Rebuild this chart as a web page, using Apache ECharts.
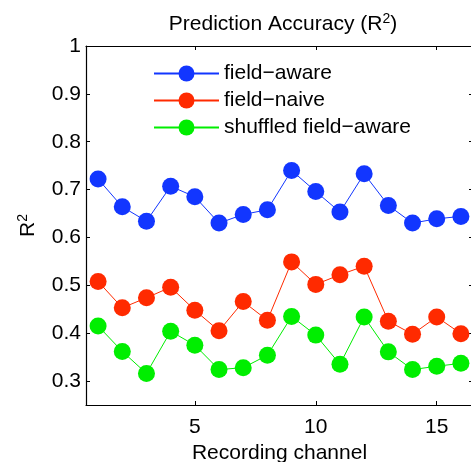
<!DOCTYPE html>
<html>
<head>
<meta charset="utf-8">
<script src="https://cdn.jsdelivr.net/npm/echarts@6/dist/echarts.min.js"></script>
<style>
  html, body { margin: 0; padding: 0; background: #fff; }
  #chart { width: 471px; height: 462px; }
</style>
</head>
<body>
<div id="chart"></div>
<script>
// 数据
const channels = [1, 2, 3, 4, 5, 6, 7, 8, 9, 10, 11, 12, 13, 14, 15, 16];
const fieldAware = [0.722, 0.664, 0.634, 0.707, 0.685, 0.630, 0.648, 0.658, 0.740, 0.696, 0.653, 0.733, 0.667, 0.630, 0.639, 0.644];
const fieldNaive = [0.508, 0.453, 0.474, 0.496, 0.448, 0.405, 0.466, 0.427, 0.549, 0.502, 0.522, 0.540, 0.425, 0.398, 0.434, 0.399];
const shuffled = [0.415, 0.362, 0.316, 0.404, 0.375, 0.324, 0.328, 0.354, 0.435, 0.396, 0.335, 0.434, 0.361, 0.324, 0.331, 0.337];
const xTicks = [5, 10, 15];
const yTicks = [0.3, 0.4, 0.5, 0.6, 0.7, 0.8, 0.9, 1];

const font = 'Liberation Sans';

function pairs(arr) {
  return arr.map((v, i) => [channels[i], v]);
}

function lineSeries(name, color, values) {
  return {
    name: name,
    type: 'line',
    data: pairs(values),
    symbol: 'circle',
    symbolSize: 17,
    itemStyle: { color: color },
    lineStyle: { color: color, width: 1 },
    emphasis: { disabled: true },
    z: 3,
  };
}

const myChart = echarts.init(document.getElementById('chart'));

const option = {
  animation: false,
  backgroundColor: '#fff',
  title: {
    text: 'Prediction Accuracy (R{sup|2})',
    left: 278,
    textAlign: 'center',
    top: 7,
    textStyle: {
      fontFamily: font,
      fontSize: 21,
      fontWeight: 'normal',
      color: '#000',
      rich: {
        sup: { fontFamily: font, fontSize: 14, color: '#000', verticalAlign: 'bottom', padding: [0, 0, 11, 0] },
      },
    },
  },
  legend: {
    left: 153,
    top: 63,
    padding: 0,
    orient: 'vertical',
    itemWidth: 65,
    itemHeight: 20,
    itemGap: 6,
    textStyle: { fontFamily: font, fontSize: 21, color: '#000' },
    data: ['field\u2212aware', 'field\u2212naive', 'shuffled field\u2212aware'],
  },
  grid: {
    left: 86,
    top: 46,
    right: -2,
    bottom: 57,
    outerBoundsMode: 'none',
    show: false,
  },
  xAxis: [
    {
      type: 'value',
      min: 0.5,
      max: 16.5,
      interval: 5,
      name: 'Recording channel',
      nameLocation: 'middle',
      nameGap: 35,
      nameTextStyle: { fontFamily: font, fontSize: 21, color: '#000' },
      axisLine: { show: true, onZero: false, lineStyle: { color: '#000', width: 1.2 } },
      axisTick: { show: true, inside: true, length: 4, lineStyle: { color: '#000' }, customValues: xTicks },
      axisLabel: { fontFamily: font, fontSize: 21, color: '#000', margin: 12, customValues: xTicks },
      splitLine: { show: false },
    },
    {
      type: 'value',
      position: 'top',
      min: 0.5,
      max: 16.5,
      axisLine: { show: true, onZero: false, lineStyle: { color: '#000', width: 1.2 } },
      axisTick: { show: true, inside: true, length: 4, lineStyle: { color: '#000' }, customValues: xTicks },
      axisLabel: { show: false },
      splitLine: { show: false },
    },
  ],
  yAxis: [
    {
      type: 'value',
      min: 0.25,
      max: 1,
      name: 'R{sup|2}',
      nameLocation: 'middle',
      nameGap: 45,
      nameRotate: 90,
      nameTextStyle: {
        fontFamily: font,
        fontSize: 21,
        color: '#000',
        rich: {
          sup: { fontFamily: font, fontSize: 14, color: '#000', verticalAlign: 'bottom', padding: [0, 0, 11, 0] },
        },
      },
      axisLine: { show: true, onZero: false, lineStyle: { color: '#000', width: 1.2 } },
      axisTick: { show: true, inside: true, length: 4, lineStyle: { color: '#000' }, customValues: yTicks },
      axisLabel: {
        fontFamily: font,
        fontSize: 21,
        color: '#000',
        margin: 5,
        customValues: yTicks,
        formatter: v => (v === 1 ? '1' : v.toFixed(1)),
      },
      splitLine: { show: false },
    },
    {
      type: 'value',
      position: 'right',
      min: 0.25,
      max: 1,
      axisLine: { show: false },
      axisTick: { show: true, inside: true, length: 4, lineStyle: { color: '#000' }, customValues: yTicks },
      axisLabel: { show: false },
      splitLine: { show: false },
    },
  ],
  series: [
    lineSeries('field\u2212aware', '#1236ff', fieldAware),
    lineSeries('field\u2212naive', '#ff2a00', fieldNaive),
    lineSeries('shuffled field\u2212aware', '#00ee00', shuffled),
  ],
};

myChart.setOption(option);
</script>
</body>
</html>
